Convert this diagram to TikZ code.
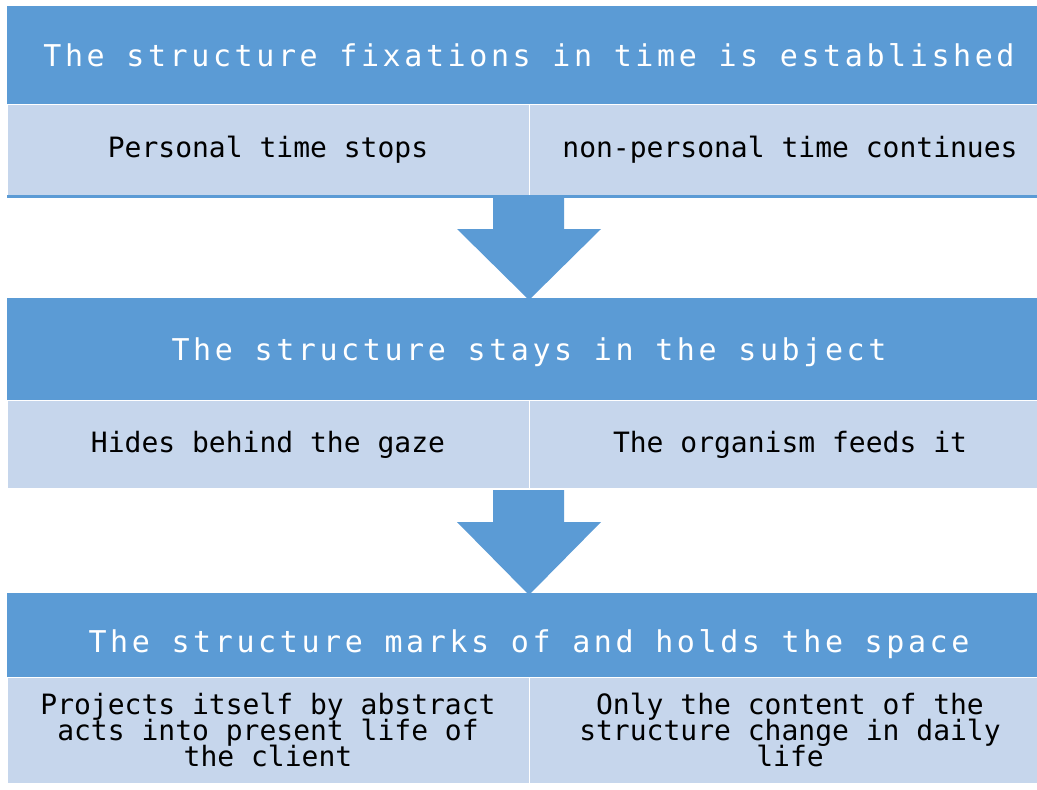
\documentclass[tikz,border=0pt]{standalone}
\usepackage{fontspec}
\usepackage{xcolor}
\usepackage{tikz}
\usetikzlibrary{positioning,calc}
\newfontfamily\titlefont[LetterSpace=12]{DejaVu Sans Mono}
\newfontfamily\cellfont{DejaVu Sans Mono}
\newcommand{\headtext}{\titlefont\fontsize{30}{36}\selectfont}
\newcommand{\celltext}{\cellfont\fontsize{28}{26}\selectfont\lineskiplimit=-20pt\relax}
\definecolor{headblue}{RGB}{91,155,213}
\definecolor{cellblue}{RGB}{198,214,236}

\begin{document}
\begin{tikzpicture}[
    x=1pt, y=-1pt,
    head/.style={rectangle, fill=headblue, inner sep=0pt, outer sep=0pt, minimum width=1044pt, text=white, font=\headtext, text height=22pt, text depth=0pt},
    cellbox/.style={rectangle, fill=cellblue, draw=white, line width=1pt, inner sep=0pt, outer sep=0pt, minimum width=522pt, font=\celltext},
    cell/.style={cellbox, text height=16pt, text depth=0pt},
    multi/.style={cellbox, align=center},
    blockarrow/.style={fill=headblue},
    rule/.style={headblue, line width=3pt},
]
\useasboundingbox[fill=white] (0,0) rectangle (1037,790);

% === first band ===
\node[head, minimum height=98pt] (t1) at (529,55) {The structure fixations in time is established};
\node[cell, minimum height=91pt, anchor=north east] (c1a) at (t1.south) {Personal time stops};
\node[cell, minimum height=91pt, anchor=north west] (c1b) at (t1.south) {non-personal time continues};
\draw[rule] ([yshift=-1.5pt]c1a.south west) -- ([yshift=-1.5pt]c1b.south east);

% === second band ===
\node[head, minimum height=102pt] (t2) at (529,349) {The structure stays in the subject};
\node[cell, minimum height=88pt, anchor=north east] (c2a) at (t2.south) {Hides behind the gaze};
\node[cell, minimum height=88pt, anchor=north west] (c2b) at (t2.south) {The organism feeds it};

% === third band ===
\node[head, minimum height=84pt, text height=34pt] (t3) at (529,635) {The structure marks of and holds the space};
\node[multi, minimum height=106pt, anchor=north east] (c3a) at (t3.south) {Projects itself by abstract\\acts into present life of\\the client};
\node[multi, minimum height=106pt, anchor=north west] (c3b) at (t3.south) {Only the content of the\\structure change in daily\\life};

% block arrows between the bands
\foreach \up/\down in {c1a/t2, c2a/t3}
  \fill[blockarrow] ($(\up.south east)+(-36,2)$) -- ++(71,0) -- ++(0,32) -- ++(37,0)
    -- ($(\down.north)+(0,2)$) -- ($(\up.south east)+(-72,34)$) -- ++(36,0) -- cycle;

\end{tikzpicture}
\end{document}
